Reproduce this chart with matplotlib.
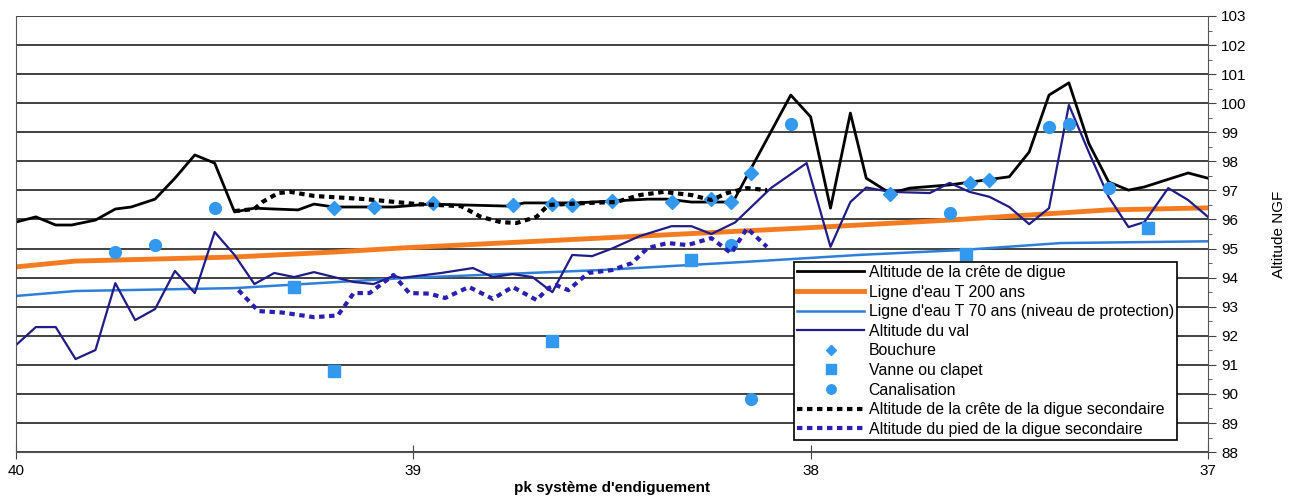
import matplotlib.pyplot as plt
from matplotlib.ticker import MultipleLocator

plt.rcParams['font.family'] = ['Liberation Sans', 'DejaVu Sans']

# Altitude de la crête de digue
crete_pk = [40.0, 39.95, 39.90, 39.86, 39.80, 39.75, 39.71, 39.65, 39.60, 39.55,
            39.50, 39.45, 39.40, 39.35, 39.29, 39.25, 39.20, 39.05, 38.96, 38.76,
            38.72, 38.59, 38.41, 38.36, 38.30, 38.21, 38.19, 38.05, 38.00, 37.95,
            37.90, 37.86, 37.80, 37.75, 37.65, 37.50, 37.45, 37.40, 37.35, 37.30,
            37.25, 37.20, 37.16, 37.05, 37.00]
crete_alt = [95.91, 96.09, 95.81, 95.81, 95.98, 96.36, 96.43, 96.70, 97.42, 98.22,
             97.94, 96.26, 96.39, 96.36, 96.33, 96.53, 96.43, 96.43, 96.53, 96.46,
             96.57, 96.57, 96.70, 96.70, 96.60, 96.60, 96.74, 100.28, 99.53, 96.39,
             99.66, 97.42, 96.90, 97.08, 97.19, 97.47, 98.32, 100.28, 100.70, 98.62,
             97.29, 97.01, 97.12, 97.60, 97.42]

# Ligne d'eau T 200 ans
t200_pk = [40.0, 39.85, 39.45, 39.2, 39.03, 38.5, 38.0, 37.65, 37.25, 37.0]
t200_alt = [94.37, 94.57, 94.71, 94.88, 95.02, 95.38, 95.72, 95.98, 96.33, 96.40]

# Ligne d'eau T 70 ans
t70_pk = [40.0, 39.85, 39.45, 39.03, 38.53, 38.13, 37.88, 37.62, 37.37, 37.0]
t70_alt = [93.37, 93.54, 93.64, 93.98, 94.26, 94.57, 94.78, 94.95, 95.19, 95.25]

# Altitude du val
val_pk = [40.0, 39.95, 39.90, 39.85, 39.80, 39.75, 39.70, 39.65, 39.60, 39.55,
          39.50, 39.45, 39.40, 39.35, 39.30, 39.25, 39.20, 39.15, 39.10, 39.05,
          39.03, 38.93, 38.85, 38.80, 38.75, 38.70, 38.65, 38.60, 38.55, 38.50,
          38.43, 38.35, 38.30, 38.25, 38.19, 38.10, 38.01, 37.95, 37.90, 37.86,
          37.80, 37.70, 37.65, 37.60, 37.55, 37.50, 37.45, 37.40, 37.35, 37.30,
          37.25, 37.20, 37.16, 37.10, 37.05, 37.00]
val_alt = [91.68, 92.30, 92.30, 91.20, 91.51, 93.81, 92.54, 92.92, 94.23, 93.47,
           95.57, 94.78, 93.78, 94.16, 94.02, 94.19, 94.02, 93.85, 93.78, 94.06,
           93.99, 94.16, 94.33, 94.02, 94.12, 94.02, 93.50, 94.78, 94.74, 95.00,
           95.43, 95.77, 95.77, 95.50, 95.90, 97.08, 97.94, 95.06, 96.60, 97.10,
           96.95, 96.91, 97.26, 96.95, 96.78, 96.43, 95.84, 96.39, 99.94, 98.32,
           96.78, 95.74, 95.91, 97.08, 96.67, 96.09]

# Bouchure
bouchure_pk = [39.20, 39.10, 38.95, 38.75, 38.65, 38.60, 38.50, 38.35, 38.25, 38.20,
               38.15, 37.80, 37.60, 37.55]
bouchure_alt = [96.39, 96.43, 96.57, 96.50, 96.53, 96.50, 96.64, 96.60, 96.70, 96.60,
                97.60, 96.88, 97.26, 97.36]

# Vanne ou clapet
vanne_pk = [39.30, 39.20, 38.65, 38.30, 37.61, 37.15]
vanne_alt = [93.68, 90.79, 91.82, 94.60, 94.83, 95.70]

# Canalisation
canal_pk = [39.75, 39.65, 39.50, 38.20, 38.15, 38.05, 37.65, 37.40, 37.35, 37.25]
canal_alt = [94.88, 95.12, 96.39, 95.12, 89.83, 99.28, 96.23, 99.18, 99.28, 97.08]

# Altitude de la crête de la digue secondaire
sec_crete_pk = [39.45, 39.40, 39.38, 39.34, 39.31, 39.25, 39.12, 38.99, 38.88, 38.83,
                38.78, 38.74, 38.69, 38.66, 38.56, 38.49, 38.43, 38.37, 38.30, 38.25,
                38.21, 38.16, 38.11]
sec_crete_alt = [96.29, 96.36, 96.60, 96.91, 96.95, 96.81, 96.70, 96.53, 96.46, 96.09,
                 95.91, 95.88, 96.09, 96.50, 96.57, 96.60, 96.84, 96.95, 96.84, 96.67,
                 96.91, 97.08, 97.01]

# Altitude du pied de la digue secondaire
sec_pied_pk = [39.44, 39.39, 39.33, 39.25, 39.19, 39.15, 39.11, 39.05, 39.01, 38.96,
               38.92, 38.86, 38.80, 38.75, 38.69, 38.66, 38.64, 38.61, 38.56, 38.50,
               38.45, 38.41, 38.36, 38.31, 38.25, 38.20, 38.16, 38.11]
sec_pied_alt = [93.57, 92.85, 92.80, 92.64, 92.70, 93.47, 93.47, 94.09, 93.47, 93.45,
                93.30, 93.68, 93.27, 93.68, 93.23, 93.64, 93.74, 93.57, 94.16, 94.26,
                94.50, 95.02, 95.19, 95.12, 95.36, 94.84, 95.70, 95.06]

fig = plt.figure(figsize=(12.9, 4.99), dpi=100)
ax = fig.add_axes([0.0124, 0.094, 0.924, 0.874])

for y in range(88, 104):
    ax.axhline(y, color='#333333', lw=1.3, zorder=0)

ax.plot(crete_pk, crete_alt, color='black', lw=2, label='Altitude de la crête de digue')
ax.plot(t200_pk, t200_alt, color='#f47b20', lw=3.5, label="Ligne d'eau T 200 ans")
ax.plot(t70_pk, t70_alt, color='#2f7fd8', lw=1.8,
        label="Ligne d'eau T 70 ans (niveau de protection)")
ax.plot(val_pk, val_alt, color='#221c86', lw=1.6, label='Altitude du val')
ax.plot(bouchure_pk, bouchure_alt, 'D', color='#3399ee', ms=7, ls='none', label='Bouchure')
ax.plot(vanne_pk, vanne_alt, 's', color='#3399ee', ms=9, ls='none', label='Vanne ou clapet')
ax.plot(canal_pk, canal_alt, 'o', color='#3399ee', ms=8.5, ls='none', label='Canalisation')
ax.plot(sec_crete_pk, sec_crete_alt, color='black', lw=3, ls=(0, (1.3, 1.1)),
        label='Altitude de la crête de la digue secondaire')
ax.plot(sec_pied_pk, sec_pied_alt, color='#2a1fb0', lw=3, ls=(0, (1.3, 1.1)),
        label='Altitude du pied de la digue secondaire')

ax.set_xlim(40, 37)
ax.set_ylim(88, 103)
ax.set_xticks([40, 39, 38, 37])
ax.tick_params(axis='x', direction='inout', length=10, labelsize=11, color='#444444')
ax.yaxis.tick_right()
ax.yaxis.set_label_position('right')
ax.yaxis.set_major_locator(MultipleLocator(1))
ax.yaxis.set_minor_locator(MultipleLocator(0.5))
ax.tick_params(axis='y', which='major', direction='out', length=6, labelsize=11, color='#444444')
ax.tick_params(axis='y', which='minor', direction='out', length=3, color='#444444')
ax.spines['top'].set_visible(False)
for s in ['left', 'right', 'bottom']:
    ax.spines[s].set_color('#555555')

ax.set_ylabel('Altitude NGF', fontsize=11, labelpad=18)
ax.set_xlabel("pk système d'endiguement", fontsize=11, fontweight='bold', labelpad=2)

leg = ax.legend(loc='lower right', bbox_to_anchor=(0.974, 0.028), fontsize=11.4,
                frameon=True, fancybox=False, edgecolor='black', framealpha=1,
                handlelength=4.2, handletextpad=0.3, labelspacing=0.29, borderpad=0.2,
                borderaxespad=0, markerscale=0.8)
leg.get_frame().set_linewidth(1.2)

plt.savefig('out.png', dpi=100)
